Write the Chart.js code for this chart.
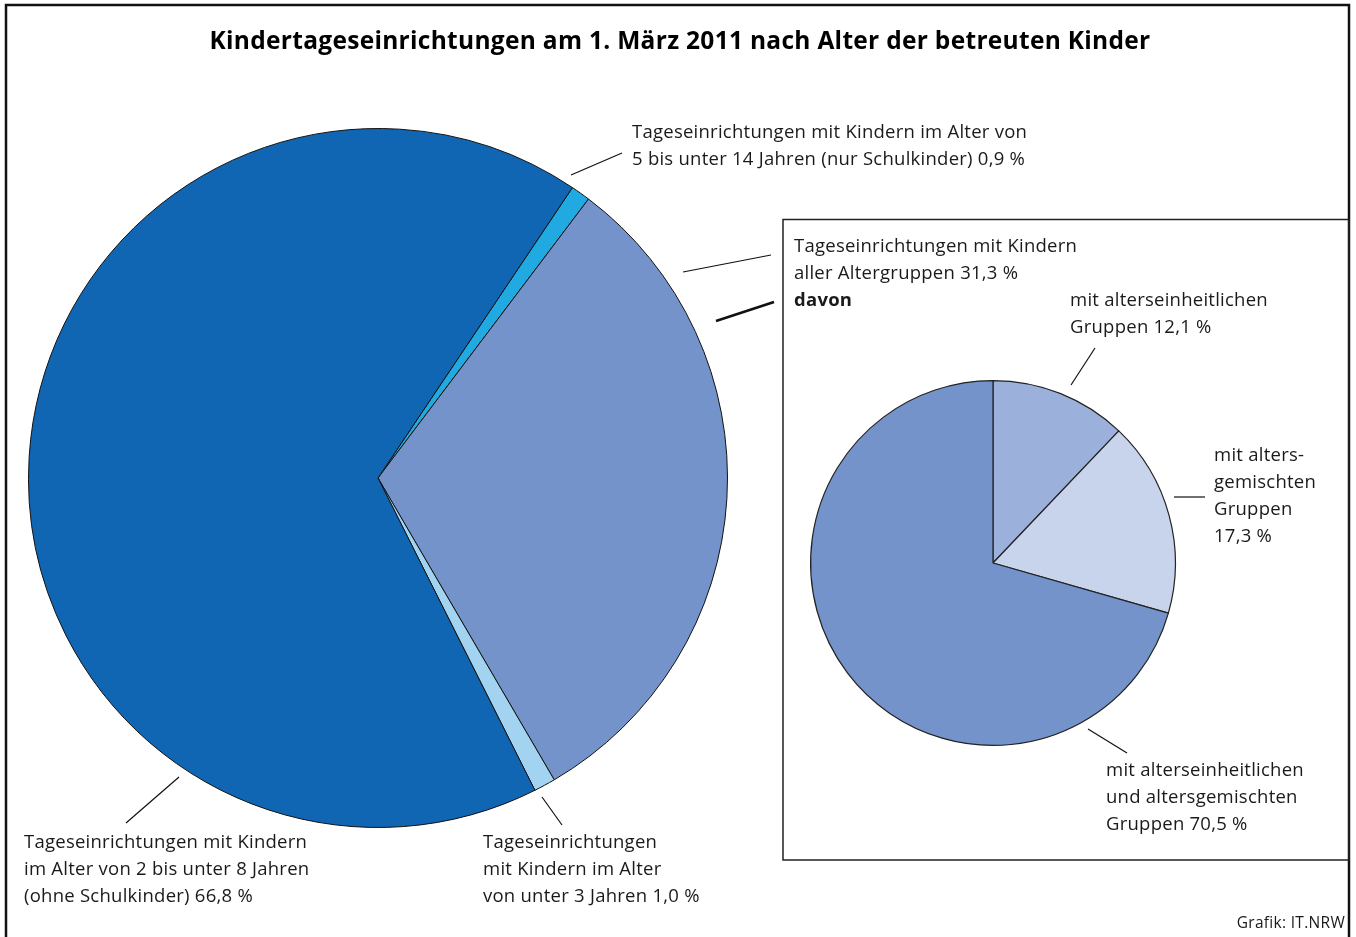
<!DOCTYPE html>
<html lang="de">
<head>
<meta charset="utf-8">
<title>Kindertageseinrichtungen 2011</title>
<script src="https://cdn.jsdelivr.net/npm/chart.js@4.4.1/dist/chart.umd.min.js"></script>
<style>
  html, body { margin: 0; padding: 0; background: #fff; }
  #wrap { position: relative; width: 1356px; height: 937px; overflow: hidden; font-family: "Open Sans", "Noto Sans", sans-serif; color: #1a1a1a; }
  canvas { position: absolute; left: 0; top: 0; }
  .lbl { position: absolute; font-size: 18.5px; letter-spacing: 0.25px; line-height: 27px; white-space: nowrap; }
  .titel { position: absolute; left: 0; width: 1360px; top: 24px; text-align: center; font-size: 24.5px; letter-spacing: 0.3px; font-weight: bold; line-height: 32px; color: #000; }
  .quelle { position: absolute; right: 11px; top: 911px; font-size: 15.5px; letter-spacing: 0.3px; line-height: 22px; }
</style>
</head>
<body>
<div id="wrap">
  <canvas id="hauptKreis" width="1356" height="937"></canvas>
  <canvas id="davonKreis" width="1356" height="937"></canvas>

  <div class="titel">Kindertageseinrichtungen am 1. März 2011 nach Alter der betreuten Kinder</div>

  <div class="lbl" style="left:632px; top:117px;">Tageseinrichtungen mit Kindern im Alter von<br>5 bis unter 14 Jahren (nur Schulkinder) 0,9 %</div>
  <div class="lbl" style="left:794px; top:231px;">Tageseinrichtungen mit Kindern<br>aller Altergruppen 31,3 %<br><b>davon</b></div>
  <div class="lbl" style="left:1070px; top:285px;">mit alterseinheitlichen<br>Gruppen 12,1 %</div>
  <div class="lbl" style="left:1214px; top:440px;">mit alters-<br>gemischten<br>Gruppen<br>17,3 %</div>
  <div class="lbl" style="left:1106px; top:755px;">mit alterseinheitlichen<br>und altersgemischten<br>Gruppen 70,5 %</div>
  <div class="lbl" style="left:483px; top:827px;">Tageseinrichtungen<br>mit Kindern im Alter<br>von unter 3 Jahren 1,0 %</div>
  <div class="lbl" style="left:24px; top:827px;">Tageseinrichtungen mit Kindern<br>im Alter von 2 bis unter 8 Jahren<br>(ohne Schulkinder) 66,8 %</div>

  <div class="quelle">Grafik: IT.NRW</div>
</div>

<script>
// Daten Hauptkreis (Anteile in %)
const hauptKategorien = [
  "nur Schulkinder (5 bis unter 14 Jahre)",
  "alle Altersgruppen",
  "unter 3 Jahren",
  "2 bis unter 8 Jahren (ohne Schulkinder)"
];
const hauptWerte = [0.9, 31.3, 1.0, 66.8];
const hauptFarben = ["#21aae2", "#7493cb", "#a2d4f1", "#1166b3"];

// Daten "davon" (Anteile an 31,3 %)
const davonKategorien = [
  "mit alterseinheitlichen Gruppen",
  "mit altersgemischten Gruppen",
  "mit alterseinheitlichen und altersgemischten Gruppen"
];
const davonWerte = [12.1, 17.3, 70.5];
const davonFarben = ["#9cb0dc", "#c8d3ec", "#7393ca"];

// Rahmen + Hinweislinien
const rahmenPlugin = {
  id: "rahmen",
  beforeDraw(chart) {
    const c = chart.ctx;
    c.save();
    c.strokeStyle = "#111";
    c.lineWidth = 2.5;
    c.strokeRect(6, 5, 1343, 940);
    c.lineWidth = 1.5;
    c.strokeStyle = "#222";
    c.strokeRect(783, 219.5, 566, 640.5);
    c.restore();
  },
  afterDraw(chart) {
    const c = chart.ctx;
    const linien = [
      [571, 175, 622, 153, 1.2],
      [683, 272, 771, 255, 1.2],
      [716, 321, 774, 302, 2.6],
      [542, 797, 562, 825, 1.2],
      [179, 777, 126, 823, 1.2],
      [1095, 348, 1071, 385, 1.2],
      [1174, 497, 1205, 497, 1.2],
      [1088, 729, 1127, 753, 1.2]
    ];
    c.save();
    c.strokeStyle = "#111";
    linien.forEach((l) => {
      c.lineWidth = l[4];
      c.beginPath();
      c.moveTo(l[0], l[1]);
      c.lineTo(l[2], l[3]);
      c.stroke();
    });
    c.restore();
  }
};

const gemeinsam = {
  responsive: false,
  animation: false,
  events: [],
  plugins: { legend: { display: false }, tooltip: { enabled: false }, title: { display: false } }
};

new Chart(document.getElementById("hauptKreis"), {
  type: "pie",
  data: {
    labels: hauptKategorien,
    datasets: [{ data: hauptWerte, backgroundColor: hauptFarben, borderColor: "#111", borderWidth: 1 }]
  },
  options: Object.assign({}, gemeinsam, {
    rotation: 33.8,
    layout: { padding: { left: 28, right: 628, top: 128, bottom: 109 } }
  }),
  plugins: [rahmenPlugin]
});

new Chart(document.getElementById("davonKreis"), {
  type: "pie",
  data: {
    labels: davonKategorien,
    datasets: [{ data: davonWerte, backgroundColor: davonFarben, borderColor: "#222", borderWidth: 1.2 }]
  },
  options: Object.assign({}, gemeinsam, {
    rotation: 0,
    layout: { padding: { left: 810, right: 180, top: 380, bottom: 191 } }
  })
});
</script>
</body>
</html>
